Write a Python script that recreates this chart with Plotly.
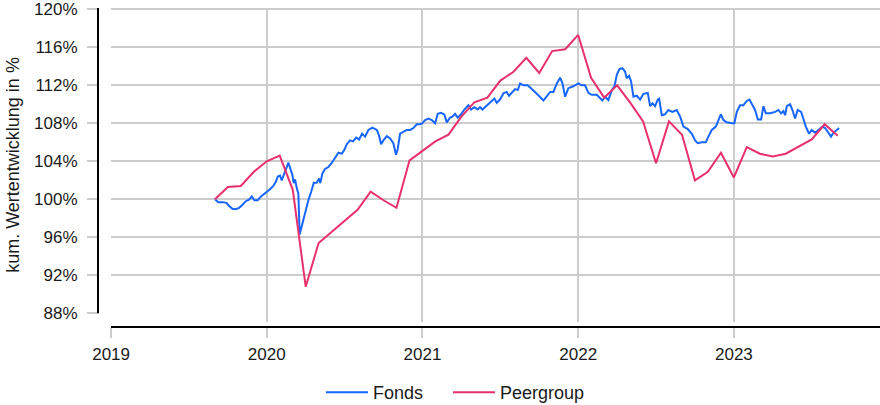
import plotly.graph_objects as go

# ---------------- data ----------------
fonds_x = [
    2019.667, 2019.689, 2019.721, 2019.743, 2019.758, 2019.779, 2019.801, 2019.822,
    2019.843, 2019.865, 2019.886, 2019.904, 2019.920, 2019.942, 2019.963, 2019.989,
    2020.021, 2020.042, 2020.058, 2020.071, 2020.085, 2020.096, 2020.113, 2020.129,
    2020.139, 2020.150, 2020.164, 2020.173, 2020.182, 2020.193, 2020.203, 2020.211,
    2020.229, 2020.246, 2020.267, 2020.285, 2020.302, 2020.321, 2020.336, 2020.344,
    2020.357, 2020.374, 2020.396, 2020.418, 2020.443, 2020.460, 2020.482, 2020.498,
    2020.514, 2020.535, 2020.554, 2020.574, 2020.593, 2020.612, 2020.631, 2020.653,
    2020.678, 2020.707, 2020.721, 2020.734, 2020.749, 2020.771, 2020.792, 2020.813,
    2020.830, 2020.841, 2020.856, 2020.877, 2020.899, 2020.920, 2020.942, 2020.963,
    2020.985, 2020.999, 2021.017, 2021.038, 2021.060, 2021.081, 2021.098, 2021.120,
    2021.141, 2021.156, 2021.177, 2021.192, 2021.209, 2021.227, 2021.248, 2021.269,
    2021.295, 2021.312, 2021.333, 2021.355, 2021.370, 2021.385, 2021.407, 2021.428,
    2021.445, 2021.462, 2021.477, 2021.498, 2021.520, 2021.541, 2021.556, 2021.577,
    2021.595, 2021.612, 2021.627, 2021.648, 2021.676, 2021.702, 2021.723, 2021.744,
    2021.777, 2021.798, 2021.820, 2021.841, 2021.863, 2021.884, 2021.899, 2021.916,
    2021.937, 2021.969, 2022.001, 2022.023, 2022.044, 2022.066, 2022.087, 2022.120,
    2022.141, 2022.155, 2022.173, 2022.194, 2022.216, 2022.233, 2022.248, 2022.265,
    2022.284, 2022.301, 2022.312, 2022.327, 2022.340, 2022.355, 2022.376, 2022.398,
    2022.419, 2022.447, 2022.462, 2022.477, 2022.494, 2022.511, 2022.520, 2022.537,
    2022.558, 2022.579, 2022.605, 2022.633, 2022.655, 2022.676, 2022.704, 2022.730,
    2022.751, 2022.768, 2022.794, 2022.820, 2022.836, 2022.858, 2022.884, 2022.901,
    2022.916, 2022.933, 2022.954, 2022.987, 2023.003, 2023.019, 2023.040, 2023.061,
    2023.083, 2023.100, 2023.115, 2023.136, 2023.154, 2023.175, 2023.190, 2023.205,
    2023.233, 2023.265, 2023.286, 2023.303, 2023.318, 2023.329, 2023.340, 2023.361,
    2023.376, 2023.393, 2023.410, 2023.432, 2023.446, 2023.462, 2023.483, 2023.500,
    2023.522, 2023.543, 2023.568, 2023.586, 2023.607, 2023.624, 2023.639, 2023.661,
    2023.676,
]
fonds_y = [
    100.0, 99.7, 99.7, 99.6, 99.3, 99.0, 98.95, 99.1,
    99.4, 99.8, 99.96, 100.3, 99.9, 99.9, 100.3, 100.6,
    101.05, 101.4, 101.85, 102.4, 102.5, 102.0, 102.7, 103.5,
    103.85, 103.3, 102.6, 101.7, 102.1, 101.15, 100.6, 96.3,
    97.5, 98.7, 99.9, 100.8, 101.75, 101.75, 102.2, 101.7,
    102.7, 103.2, 103.4, 103.85, 104.55, 104.9, 104.8, 105.2,
    105.8, 106.2, 106.1, 106.5, 106.3, 106.9, 106.6, 107.3,
    107.55, 107.3, 106.7, 105.8, 106.2, 106.65, 106.4, 105.9,
    104.7, 105.3, 106.9, 107.1, 107.3, 107.3, 107.5, 107.9,
    107.9, 108.0, 108.35, 108.5, 108.35, 108.0, 109.0, 109.1,
    108.9, 108.1, 108.6, 108.7, 109.0, 108.6, 108.95, 109.45,
    109.9, 109.45, 109.7, 109.45, 109.7, 109.45, 109.8, 110.1,
    110.4, 110.6, 110.15, 110.5, 111.15, 111.3, 110.9, 111.3,
    111.6, 111.5, 112.2, 112.0, 112.0, 111.6, 111.3, 110.95,
    110.4, 110.8, 111.3, 111.3, 112.2, 112.8, 112.2, 110.8,
    111.7, 111.9, 112.2, 112.0, 112.0, 111.2, 111.0, 111.0,
    110.6, 110.4, 110.8, 110.45, 111.5, 111.9, 113.1, 113.7,
    113.8, 113.45, 112.75, 113.0, 112.4, 110.8, 110.9, 110.5,
    111.1, 111.2, 109.8, 110.1, 109.8, 110.5, 110.6, 108.85,
    108.95, 109.4, 109.2, 109.4, 108.7, 107.65, 107.4, 106.9,
    106.2, 105.9, 106.0, 106.0, 106.6, 107.3, 107.65, 108.35,
    108.95, 108.35, 108.1, 108.0, 108.0, 109.2, 109.9, 109.9,
    110.35, 110.5, 110.1, 109.4, 108.4, 108.4, 109.8, 109.05,
    109.05, 109.2, 109.4, 109.05, 109.3, 108.85, 109.8, 110.0,
    109.4, 108.5, 109.4, 109.2, 108.5, 107.65, 106.9, 107.3,
    107.0, 107.3, 107.65, 107.5, 107.0, 106.6, 107.0, 107.3,
    107.5,
]

peer_x = [
    2019.667, 2019.750, 2019.833, 2019.917, 2020.000,
    2020.083, 2020.167, 2020.250, 2020.333, 2020.417, 2020.500,
    2020.583, 2020.667, 2020.750, 2020.833, 2020.917, 2021.000,
    2021.083, 2021.167, 2021.250, 2021.333, 2021.417, 2021.500,
    2021.583, 2021.667, 2021.750, 2021.833, 2021.917, 2022.000,
    2022.083, 2022.167, 2022.250, 2022.333, 2022.417, 2022.500,
    2022.583, 2022.667, 2022.750, 2022.833, 2022.917, 2023.000,
    2023.083, 2023.167, 2023.250, 2023.333, 2023.417, 2023.500,
    2023.583, 2023.667,
]
peer_y = [
    100.0, 101.3, 101.4, 102.9, 104.0,
    104.6, 101.0, 90.8, 95.4, 96.6, 97.7,
    98.9, 100.8, 99.9, 99.1, 104.1, 105.1,
    106.1, 106.8, 108.7, 110.2, 110.7, 112.5,
    113.4, 114.9, 113.3, 115.6, 115.8, 117.3,
    112.8, 110.7, 112.0, 110.2, 108.2, 103.8,
    108.2, 106.8, 102.0, 102.9, 104.9, 102.3,
    105.5, 104.8, 104.5, 104.8, 105.6, 106.3,
    107.9, 106.7,
]

series_names = ["Fonds", "Peergroup"]
series_colors = ["#1766FF", "#E8306B"]

x_grid = [2020, 2021, 2022, 2023]
x_ticks = [2019, 2020, 2021, 2022, 2023]
x_labels = ["2019", "2020", "2021", "2022", "2023"]
y_grid = [92, 96, 100, 104, 108, 112, 116, 120]
y_ticks = [88, 92, 96, 100, 104, 108, 112, 116, 120]
y_labels = ["88%", "92%", "96%", "100%", "104%", "108%", "112%", "116%", "120%"]
y_title = "kum. Wertentwicklung in %"

# ---------------- layout constants ----------------
W, H = 880, 405
ML, MR, MT, MB = 98, 0, 8, 78
PW = W - ML - MR
PH = H - MT - MB
x_range = [2018.9995, 2023.9385]
y_range = [87.084, 120.137]
FONT = "Liberation Sans, Arial, Helvetica, sans-serif"
GRID = "#CCCCCC"
TXT = "#1a1a1a"
FS = 17
FS_LEG = 18

fig = go.Figure()
fig.add_trace(go.Scatter(x=fonds_x, y=fonds_y, mode="lines", name=series_names[0],
                         legendwidth=70,
                         line=dict(color=series_colors[0], width=2)))
fig.add_trace(go.Scatter(x=peer_x, y=peer_y, mode="lines", name=series_names[1],
                         line=dict(color=series_colors[1], width=2)))

fig.update_layout(
    width=W, height=H,
    margin=dict(l=ML, r=MR, t=MT, b=MB, autoexpand=False),
    paper_bgcolor="white", plot_bgcolor="white",
    font=dict(family=FONT, size=FS, color=TXT),
    showlegend=True,
    legend=dict(orientation="h", xref="container", yref="container",
                x=321 / W, xanchor="left", y=1 - 374 / H, yanchor="top",
                itemwidth=42, borderwidth=0,
                font=dict(size=FS_LEG, color=TXT), bgcolor="rgba(0,0,0,0)"),
    xaxis=dict(domain=[(111 - ML) / PW, 1], range=x_range, tickmode="array",
               tickvals=x_grid, showticklabels=False, ticks="",
               showgrid=True, gridcolor=GRID, gridwidth=2, zeroline=False,
               showline=False, automargin=False),
    yaxis=dict(domain=[(327 - 322) / PH, 1], range=y_range, tickmode="array",
               tickvals=y_grid, showticklabels=False, ticks="",
               showgrid=True, gridcolor=GRID, gridwidth=2, zeroline=False,
               showline=False, automargin=False),
    xaxis2=dict(overlaying="x", anchor="free", position=0, range=x_range,
                tickmode="array", tickvals=x_ticks, ticktext=x_labels,
                ticks="outside", ticklen=10, tickwidth=2, tickcolor=GRID,
                showgrid=False, zeroline=False, showline=True,
                linecolor="black", linewidth=2, automargin=False,
                ticklabelstandoff=2,
                tickfont=dict(family=FONT, size=FS, color=TXT)),
    yaxis2=dict(overlaying="y", anchor="free", position=0, side="left",
                range=y_range, tickmode="array", tickvals=y_ticks,
                ticktext=y_labels, ticks="outside", ticklen=11, tickwidth=2,
                tickcolor=GRID, showgrid=False, zeroline=False, showline=False,
                automargin=False, ticklabelstandoff=6,
                tickfont=dict(family=FONT, size=FS, color=TXT),
                title=dict(text=y_title, standoff=8,
                           font=dict(family=FONT, size=FS_LEG, color=TXT))),
)

# keep the overlay axes active by attaching invisible copies of the data
fig.add_trace(go.Scatter(x=peer_x, y=peer_y, xaxis="x2", yaxis="y2",
                         mode="lines", line=dict(width=0), opacity=0,
                         showlegend=False, hoverinfo="skip"))

# y axis line (from 88 % up to the top of the panel)
fig.add_shape(type="line", xref="paper", yref="y", x0=0, x1=0,
              y0=y_ticks[0], y1=y_range[1],
              line=dict(color="black", width=2), layer="above")

# remove the browser's default page margin so the figure sits at (0, 0)
fig.write_html("out.html", config={"displayModeBar": False},
               post_script="document.body.style.margin='0';")
